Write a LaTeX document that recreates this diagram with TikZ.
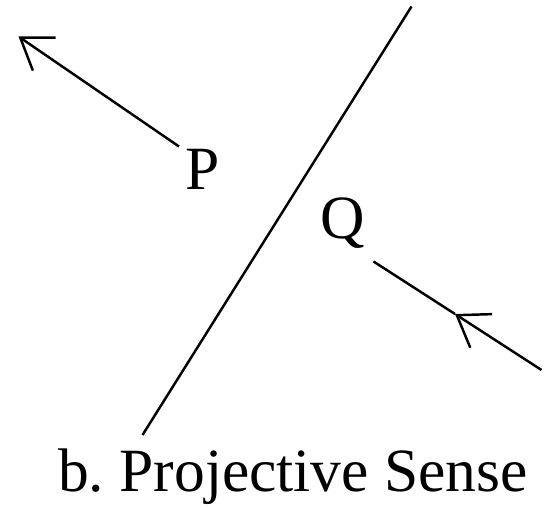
\documentclass[tikz,border=0pt]{standalone}
\usepackage{fontspec}
\setmainfont{Liberation Serif}
\usepackage{tikz}
\usetikzlibrary{arrows.meta}

\tikzset{
    lbl/.style={font=\fontsize{35}{41}\selectfont, inner sep=0pt, anchor=base},
    ray/.style={line width=1.4pt, -{Straight Barb[length=5.8mm, width=8mm]}}
}

\begin{document}
\begin{tikzpicture}
    \useasboundingbox (0,0) rectangle (10.9,10.16);

    \coordinate (L1) at (8.23, 10.03);
    \coordinate (L2) at (2.85, 1.46);
    \coordinate (Ps) at (3.58, 7.23);
    \coordinate (Pt) at (0.37, 9.43);
    \coordinate (Qs) at (10.83, 2.76);
    \coordinate (Qm) at (9.10, 3.88);
    \coordinate (Qe) at (7.47, 4.93);

    \draw[line width=1.4pt] (L1) -- (L2);

    \node[lbl] (P) at (4.05, 6.36) {P};
    \node[lbl] (Q) at (6.86, 5.39) {Q};

    \draw[ray] (Ps) -- (Pt);
    \draw[ray] (Qs) -- (Qm);
    \draw[line width=1.4pt] (Qm) -- (Qe);

    \node[lbl] (cap) at (5.86, 0.33) {b.\ Projective Sense};
\end{tikzpicture}
\end{document}
